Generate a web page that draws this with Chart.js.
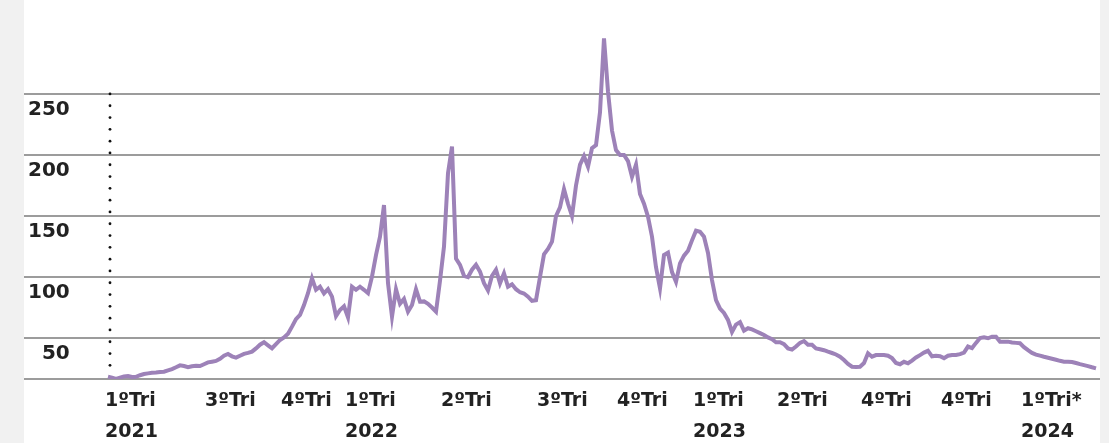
<!DOCTYPE html>
<html>
<head>
<meta charset="utf-8">
<script src="https://cdn.jsdelivr.net/npm/chart.js@4"></script>
<style>
  html, body { margin: 0; padding: 0; background: #f1f1f1; }
  #wrap { position: absolute; left: 24px; top: 0; width: 1076px; height: 443px; background: #fff; }
</style>
</head>
<body>
<div id="wrap"><canvas id="gasChart" width="1076" height="443"></canvas></div>
<script>
// precio, un punto por cada paso del eje
const prices = [
  18.3, 17.5, 16.5, 17.5, 18.5, 18.8, 18.0, 18.2, 19.5, 20.5,
  21.0, 21.5, 21.8, 22.2, 22.4, 23.5, 24.5, 26.0, 27.6, 27.0,
  26.0, 26.8, 27.2, 27.0, 28.5, 30.0, 30.6, 31.2, 33.0, 35.5,
  36.9, 35.0, 33.9, 35.5, 37.0, 37.8, 38.8, 41.5, 44.5, 46.5,
  44.0, 41.6, 45.0, 48.4, 50.5, 53.5, 59.3, 65.5, 68.9, 77.0,
  86.7, 98.9, 89.5, 92.1, 86.5, 90.0, 83.9, 68.0, 73.0, 76.0,
  67.0, 92.0, 89.5, 92.0, 89.5, 86.7, 100.3, 118.0, 133.0, 159.0,
  95.0, 67.5, 90.0, 78.0, 82.0, 71.6, 77.0, 90.0, 79.8, 80.0,
  78.0, 75.0, 71.6, 97.0, 125.0, 185.0, 206.8, 115.0, 110.0, 101.0,
  100.0, 106.0, 110.0, 104.4, 95.0, 89.0, 101.0, 106.0, 94.8, 103.0,
  92.0, 94.0, 90.0, 87.5, 86.5, 83.9, 80.5, 81.0, 100.0, 118.5,
  123.0, 129.0, 150.0, 157.0, 172.0, 160.0, 150.0, 175.0, 192.0, 199.0,
  190.4, 205.5, 208.0, 235.0, 295.6, 252.0, 220.0, 204.0, 200.0, 200.0,
  195.0, 182.0, 192.0, 168.0, 160.0, 149.4, 133.0, 108.0, 90.7, 118.0,
  120.0, 104.0, 96.0, 111.2, 117.5, 121.5, 130.0, 138.0, 137.0, 133.0,
  119.7, 97.5, 81.0, 74.0, 70.5, 64.8, 55.0, 61.0, 63.0, 56.0,
  58.0, 57.0, 55.5, 54.0, 52.5, 50.5, 49.0, 46.5, 46.5, 45.0,
  41.5, 40.5, 43.0, 46.0, 47.5, 44.5, 44.5, 41.5, 40.8, 40.0,
  38.8, 37.7, 36.5, 34.7, 32.0, 28.8, 26.5, 26.3, 26.5, 29.5,
  37.5, 34.7, 36.0, 36.0, 36.1, 35.5, 33.5, 29.5, 28.5, 30.5,
  29.3, 31.5, 34.0, 36.0, 38.0, 39.5, 35.0, 35.5, 35.0, 33.5,
  35.5, 36.1, 36.1, 36.8, 38.0, 43.0, 41.8, 46.0, 50.0, 50.5,
  49.8, 51.1, 51.0, 47.0, 47.0, 47.0, 46.3, 46.0, 45.7, 42.5,
  40.0, 37.8, 36.4, 35.5, 34.6, 33.8, 33.0, 32.2, 31.3, 30.6,
  30.6, 30.3, 29.5, 28.6, 27.8, 27.0, 26.0, 25.1
];

const quarterLabels = [
  ['1ºTri', '2021'], '3ºTri', '4ºTri', ['1ºTri', '2022'], '2ºTri', '3ºTri',
  '4ºTri', ['1ºTri', '2023'], '2ºTri', '4ºTri', '4ºTri', ['1ºTri*', '2024']
];
const quarterPos = [0, 25, 44, 60, 84, 108, 128, 147, 168, 189, 209, 229];
const yTicks = [50, 100, 150, 200, 250];

const gridGrey = '#9c9c9c';

// linea punteada vertical al inicio de la serie
const startDots = {
  id: 'startDots',
  afterDatasetsDraw(chart) {
    const ctx = chart.ctx;
    const x = chart.scales.x.getPixelForValue(0.5);
    const yTop = chart.scales.y.getPixelForValue(250);
    const yBot = chart.chartArea.bottom;
    ctx.save();
    ctx.fillStyle = '#111';
    for (let y = yTop; y < yBot - 2; y += 11.8) {
      ctx.beginPath();
      ctx.arc(x, y, 1.4, 0, Math.PI * 2);
      ctx.fill();
    }
    ctx.restore();
  }
};

new Chart(document.getElementById('gasChart'), {
  type: 'line',
  data: {
    labels: prices.map((_, i) => i),
    datasets: [{
      data: prices.map((v, i) => ({ x: i, y: v })),
      borderColor: '#9d82b8',
      borderWidth: 4,
      pointRadius: 0,
      tension: 0,
      fill: false
    }]
  },
  options: {
    responsive: false,
    animation: false,
    layout: { padding: 0 },
    plugins: {
      legend: { display: false },
      tooltip: { enabled: false }
    },
    scales: {
      x: {
        type: 'linear',
        min: -21,
        max: 248,
        afterBuildTicks: (scale) => { scale.ticks = quarterPos.map(v => ({ value: v })); },
        afterFit: (scale) => { scale.height = 64; scale.paddingLeft = 0; scale.paddingRight = 0; },
        grid: { display: false, drawTicks: false },
        border: { display: true, color: gridGrey, width: 2 },
        ticks: {
          autoSkip: false,
          maxRotation: 0,
          align: 'start',
          labelOffset: -3,
          padding: 7,
          color: '#222',
          font: { family: 'DejaVu Sans', weight: 'bold', size: 19, lineHeight: 1.63 },
          callback: (value, index) => quarterLabels[index]
        }
      },
      y: {
        min: 16.4,
        max: 327,
        afterBuildTicks: (scale) => { scale.ticks = yTicks.map(v => ({ value: v })); },
        afterFit: (scale) => { scale.width = 0; scale.paddingTop = 0; scale.paddingBottom = 0; },
        grid: { color: gridGrey, lineWidth: 2, drawTicks: false },
        border: { display: false },
        ticks: {
          mirror: true,
          crossAlign: 'far',
          padding: 4,
          labelOffset: 16,
          color: '#222',
          font: { family: 'DejaVu Sans', weight: 'bold', size: 20 }
        }
      }
    }
  },
  plugins: [startDots]
});
</script>
</body>
</html>
